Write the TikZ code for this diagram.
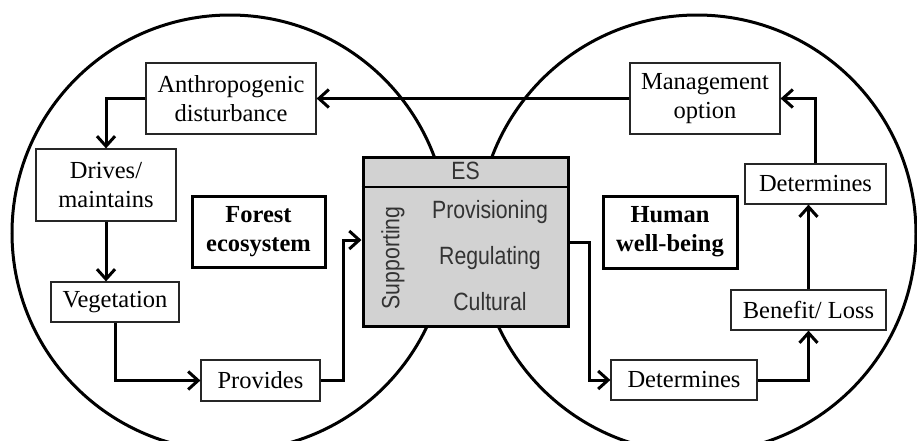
\documentclass[tikz,border=0pt]{standalone}
\usepackage{fontspec}
\setmainfont{Liberation Serif}
\newfontfamily\esfont[FakeStretch=0.85]{Liberation Sans}
\usepackage{tikz}
\usetikzlibrary{arrows.meta}
\definecolor{esgray}{HTML}{D2D2D2}
\definecolor{estext}{HTML}{333333}
\tikzset{
  >={Straight Barb[length=5pt,width=9pt]},
  sphere/.style={draw=black, line width=1.5pt},
  stepbox/.style={
    rectangle,
    fill=white,
    draw=black!85, line width=0.6pt,
    inner sep=0pt,
    align=center,
    font=\fontsize{12.25}{14.5}\selectfont},
  boldbox/.style={
    stepbox,
    draw=black, line width=1.5pt,
    font=\fontsize{12.25}{14.5}\selectfont\bfseries},
  esbox/.style={
    rectangle,
    fill=esgray,
    draw=black, line width=1.5pt,
    minimum width=102.5pt,
    minimum height=84.5pt},
  eslabel/.style={text=estext, font=\esfont\fontsize{12.5}{14}\selectfont},
  line/.style={draw, line width=1.5pt, ->},
}
\begin{document}
\begin{tikzpicture}[x=0.5pt, y=-0.5pt]
  \useasboundingbox (0,0) rectangle (917,440);
  \clip (0,0) rectangle (917,440);
     % the two spheres
     \draw[sphere] (230,233) circle [radius=109pt];
     \draw[sphere] (697,234) circle [radius=109.5pt];
     % forest side
     \node[stepbox, minimum width=85pt, minimum height=35.5pt] (AnthropogenicDisturbance) at (231,98.5) {Anthropogenic\\disturbance};
     \node[stepbox, minimum width=70pt, minimum height=36pt] (DrivesMaintains) at (106,185) {Drives/\\maintains};
     \node[stepbox, minimum width=64pt, minimum height=20pt] (Vegetation) at (115,302) {Vegetation};
     \node[stepbox, minimum width=59.5pt, minimum height=20.5pt] (Provides) at (260.5,380.5) {Provides};
     \node[boldbox, minimum width=66.5pt, minimum height=35.5pt] (ForestEcosystem) at (258.5,231.5) {Forest\\ecosystem};
     % ecosystem services
     \node[esbox] (ES) at (465.5,241.5) {};
     \draw[line width=1pt] ([yshift=-15.5pt]ES.north west) -- ([yshift=-15.5pt]ES.north east);
     \node[eslabel] (ESTitle) at ([yshift=-7.75pt]ES.north) {ES};
     \node[eslabel, rotate=90] (Supporting) at (393,258) {Supporting};
     \node[eslabel] (Provisioning) at (490,212) {Provisioning};
     \node[eslabel] (Regulating) at (490,258) {Regulating};
     \node[eslabel] (Cultural) at (490,302) {Cultural};
     % human side
     \node[stepbox, minimum width=75pt, minimum height=35.5pt] (ManagementOption) at (705,98.5) {Management\\option};
     \node[stepbox, minimum width=70.5pt, minimum height=20pt] (DeterminesTop) at (815.5,184) {Determines};
     \node[stepbox, minimum width=77.5pt, minimum height=20pt] (BenefitLoss) at (808.5,310) {Benefit/ Loss};
     \node[stepbox, minimum width=73pt, minimum height=20pt] (DeterminesBottom) at (684,380) {Determines};
     \node[boldbox, minimum width=67pt, minimum height=36pt] (HumanWellBeing) at (670,232) {Human\\well-being};
     \coordinate (ProvidesTurn) at (343,240);
     \coordinate (ESTurn) at (589,242);
     % arrows
     \draw[line] (ManagementOption.west) -- (AnthropogenicDisturbance.east);
     \draw[line] (AnthropogenicDisturbance.west) -| (DrivesMaintains.north);
     \draw[line] (DrivesMaintains.south) -- (DrivesMaintains.south |- Vegetation.north);
     \draw[line] (Vegetation.south) |- (Provides.west);
     \draw[line] (Provides.east) -| (ProvidesTurn) -- (ProvidesTurn -| ES.west);
     \draw[line] (ESTurn -| ES.east) -- (ESTurn) |- (DeterminesBottom.west);
     \draw[line] (DeterminesBottom.east) -| (BenefitLoss.south);
     \draw[line] (BenefitLoss.north) -- (BenefitLoss.north |- DeterminesTop.south);
     \draw[line] (DeterminesTop.north) |- (ManagementOption.east);
\end{tikzpicture}
\end{document}
